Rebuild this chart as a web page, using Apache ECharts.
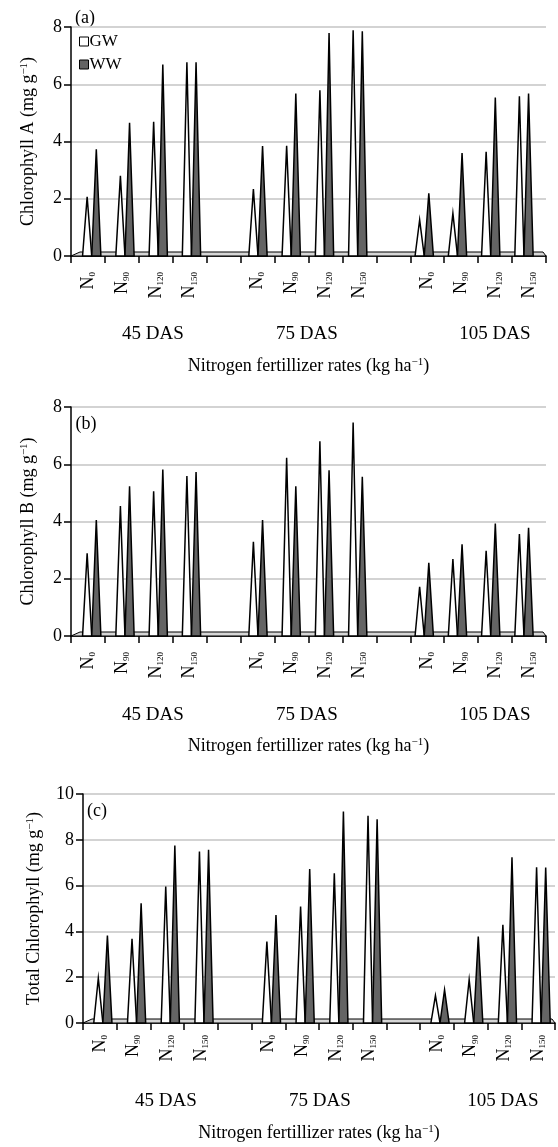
<!DOCTYPE html>
<html><head><meta charset="utf-8">
<script src="https://cdn.jsdelivr.net/npm/echarts@6/dist/echarts.min.js"></script>
<style>html,body{margin:0;padding:0;background:#fff}#c{width:558px;height:1147px}</style>
</head><body><div id="c"></div>
<script>
const stages = ['45 DAS', '75 DAS', '105 DAS'];
const rates = ['0', '90', '120', '150'];
const yTicksAB = [0, 2, 4, 6, 8];
const yTicksC = [0, 2, 4, 6, 8, 10];

// 14 category slots: 4 rates per stage, one empty slot between stages
const chlA_GW = [2.07, 2.80, 4.69, 6.77, null, 2.34, 3.85, 5.79, 7.89, null, 1.26, 1.49, 3.64, 5.58];
const chlA_WW = [3.73, 4.65, 6.69, 6.77, null, 3.84, 5.68, 7.79, 7.85, null, 2.19, 3.60, 5.54, 5.68];
const chlB_GW = [2.89, 4.54, 5.06, 5.59, null, 3.29, 6.23, 6.80, 7.46, null, 1.72, 2.69, 2.98, 3.56];
const chlB_WW = [4.05, 5.23, 5.82, 5.73, null, 4.05, 5.23, 5.79, 5.56, null, 2.56, 3.20, 3.93, 3.78];
const tot_GW  = [1.96, 3.68, 5.96, 7.49, null, 3.56, 5.09, 6.54, 9.05, null, 1.20, 1.89, 4.29, 6.80];
const tot_WW  = [3.82, 5.23, 7.75, 7.56, null, 4.72, 6.72, 9.23, 8.90, null, 1.45, 3.78, 7.24, 6.79];

const categories = [];
stages.forEach((s, si) => {
  rates.forEach(r => categories.push(s + '|' + r));
  if (si < stages.length - 1) categories.push('gap' + si);
});

const FONT = 'Liberation Serif';
const C_GW = '#ffffff', C_WW = '#646464';

const grids = [
  {left: 71, top: 27, width: 475, height: 229},
  {left: 71, top: 407, width: 475, height: 229},
  {left: 83, top: 794, width: 472, height: 229}
];
const persp = [{k: 0.98, off: 4.1}, {k: 0.98, off: 4.1}, {k: 1.0, off: 3.0}];

function xAxis(gi, margin, nameGap) {
  return {
    type: 'category', gridIndex: gi, data: categories, boundaryGap: true,
    axisLine: {lineStyle: {color: '#000', width: 1.5}},
    axisTick: {show: true, interval: 0, length: 7, lineStyle: {color: '#000', width: 1.5}},
    axisLabel: {
      interval: 0, rotate: 90, margin: margin, color: '#000',
      formatter: v => v.startsWith('gap') ? '' : '{n|N}{s|' + v.split('|')[1] + '}',
      rich: {
        n: {fontFamily: FONT, fontSize: 18, color: '#000'},
        s: {fontFamily: FONT, fontSize: 9, color: '#000', verticalAlign: 'bottom'}
      }
    },
    splitLine: {show: false},
    name: '{t|Nitrogen fertillizer rates (kg ha}{sup|\u22121}{t|)}',
    nameLocation: 'middle', nameGap: nameGap,
    nameTextStyle: {
      rich: {
        t: {fontFamily: FONT, fontSize: 18, color: '#000'},
        sup: {fontFamily: FONT, fontSize: 11, color: '#000', verticalAlign: 'top'}
      }
    }
  };
}
function yAxis(gi, max, title, nameGap) {
  return {
    type: 'value', gridIndex: gi, min: 0, max: max, interval: 2,
    axisLine: {show: true, lineStyle: {color: '#000', width: 1.5}},
    axisTick: {show: true, length: 7, lineStyle: {color: '#000', width: 1.5}},
    axisLabel: {margin: 9, color: '#000', fontFamily: FONT, fontSize: 18},
    splitLine: {show: true, lineStyle: {color: '#c4c4c4', width: 1.6}},
    name: '{t|' + title + ' (mg g}{sup|\u22121}{t|)}',
    nameLocation: 'middle', nameGap: nameGap,
    nameTextStyle: {
      rich: {
        t: {fontFamily: FONT, fontSize: 18, color: '#000'},
        sup: {fontFamily: FONT, fontSize: 11, color: '#000', verticalAlign: 'top'}
      }
    }
  };
}

function spikeSeries(name, values, gi, side, color) {
  const p = persp[gi];
  return {
    type: 'custom', name: name, xAxisIndex: gi, yAxisIndex: gi, z: 4,
    itemStyle: {color: color, borderColor: '#000'},
    encode: {x: 0, y: 1},
    data: values.map((v, i) => v == null ? null : [i, v]).filter(d => d),
    renderItem: (params, api) => {
      const i = api.value(0), v = api.value(1);
      const p0 = api.coord([i, 0]);
      const p1 = api.coord([i, v]);
      const bw = api.size([1, 0])[0];
      const cs = params.coordSys;
      const pc = cs.x + (p0[0] - cs.x) * p.k + p.off;
      const hw = bw * 0.135;
      const cx = pc + side * hw;
      return {
        type: 'polygon',
        shape: {points: [[cx - hw, p0[1]], [cx, p1[1]], [cx + hw, p0[1]]]},
        style: {fill: color, stroke: '#000', lineWidth: 1.5}
      };
    }
  };
}
function floorSeries(gi) {
  return {
    type: 'custom', xAxisIndex: gi, yAxisIndex: gi, z: 3, silent: true,
    data: [[0, 0]], encode: {x: 0, y: 1},
    renderItem: (params, api) => {
      const cs = params.coordSys;
      const y = cs.y + cs.height;
      return {
        type: 'polygon',
        shape: {points: [[cs.x, y], [cs.x + 9, y - 4], [cs.x + cs.width - 3, y - 4], [cs.x + cs.width, y]]},
        style: {fill: '#d6d6d6', stroke: '#000', lineWidth: 1}
      };
    }
  };
}

function txt(text, x, y, size) {
  return {type: 'text', x: x, y: y, silent: true,
    style: {text: text, fill: '#000', font: size + 'px "' + FONT + '"', align: 'center', verticalAlign: 'middle'}};
}
const groupX = [[153, 307, 495], [153, 307, 495], [166, 320, 503]];
const groupY = [334, 715, 1101];
const graphics = [txt('(a)', 85, 18, 18), txt('(b)', 86, 424, 18), txt('(c)', 97, 811, 18)];
groupX.forEach((xs, gi) => xs.forEach((x, si) => graphics.push(txt(stages[si], x, groupY[gi], 19))));

const chart = echarts.init(document.getElementById('c'), null, {renderer: 'canvas'});
chart.setOption({
  animation: false,
  backgroundColor: '#fff',
  grid: grids,
  xAxis: [xAxis(0, 16, 101), xAxis(1, 16, 101), xAxis(2, 12, 101)],
  yAxis: [yAxis(0, 8, 'Chlorophyll A', 34), yAxis(1, 8, 'Chlorophyll B', 34), yAxis(2, 10, 'Total Chlorophyll', 40)],
  legend: {
    orient: 'vertical', left: 74, top: 28, itemWidth: 9, itemHeight: 9, itemGap: 6,
    icon: 'rect', selectedMode: false,
    textStyle: {fontFamily: FONT, fontSize: 17, color: '#000', padding: [0, 0, 0, -4]},
    data: [
      {name: 'GW', itemStyle: {color: C_GW, borderColor: '#000', borderWidth: 1}},
      {name: 'WW', itemStyle: {color: C_WW, borderColor: '#000', borderWidth: 1}}
    ]
  },
  series: [
    floorSeries(0), floorSeries(1), floorSeries(2),
    spikeSeries('GW', chlA_GW, 0, -1, C_GW), spikeSeries('WW', chlA_WW, 0, 1, C_WW),
    spikeSeries('GW', chlB_GW, 1, -1, C_GW), spikeSeries('WW', chlB_WW, 1, 1, C_WW),
    spikeSeries('GW', tot_GW, 2, -1, C_GW), spikeSeries('WW', tot_WW, 2, 1, C_WW)
  ],
  graphic: graphics
});
</script></body></html>
